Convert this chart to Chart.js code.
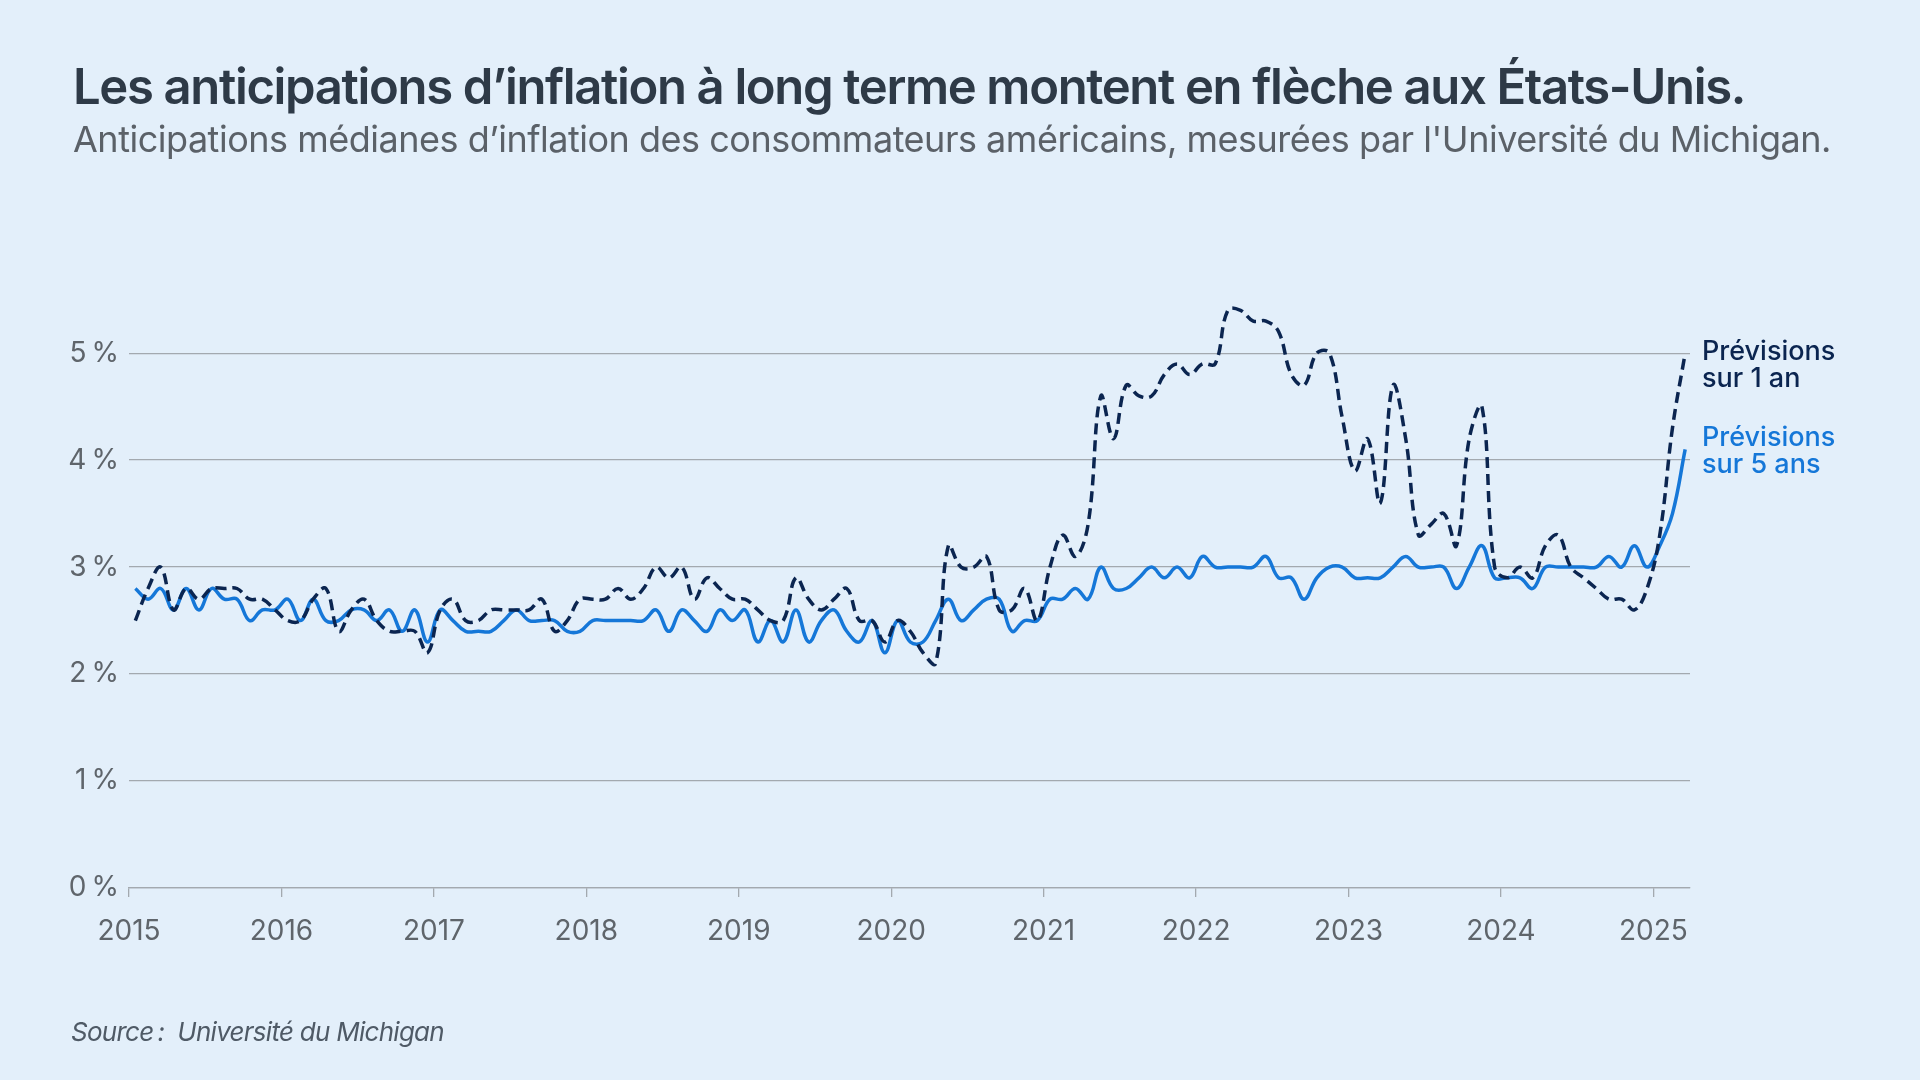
<!DOCTYPE html>
<html lang="fr">
<head>
<meta charset="utf-8">
<script src="https://cdn.jsdelivr.net/npm/chart.js@4"></script>
<style>
  html, body { margin: 0; padding: 0; background: #e3effa; }
  body { width: 1920px; height: 1080px; position: relative; overflow: hidden; font-family: Inter, "Noto Sans", sans-serif; }
  #c { position: absolute; left: 0; top: 0; }
  .t { position: absolute; white-space: nowrap; }
  #title { left: 73px; top: 62px; font-size: 49px; line-height: 49px; font-weight: 600; color: #2e3a47; }
  #subtitle { left: 73px; top: 121px; font-size: 36px; line-height: 36px; font-weight: 400; color: #5b6168; }
  #source { left: 71px; top: 1019px; font-size: 26px; line-height: 26px; font-style: italic; color: #4f5a66; }
  .lab { left: 1702px; font-size: 27px; line-height: 27px; font-weight: 500; }
  #lab1 { top: 337px; color: #0b2550; }
  #lab5 { top: 423px; color: #1577d8; }
</style>
</head>
<body>
<canvas id="c" width="1920" height="1080"></canvas>
<div class="t" id="title">Les anticipations d’inflation à long terme montent en flèche aux États-Unis.</div>
<div class="t" id="subtitle">Anticipations médianes d’inflation des consommateurs américains, mesurées par l'Université du Michigan.</div>
<div class="t" id="source">Source&#8239;:&nbsp; Université du Michigan</div>
<div class="t lab" id="lab1">Prévisions<br>sur 1 an</div>
<div class="t lab" id="lab5">Prévisions<br>sur 5 ans</div>
<script>
// Monthly series, January 2015 – March 2025
const startYear = 2015;
const yearTicks = [2015, 2016, 2017, 2018, 2019, 2020, 2021, 2022, 2023, 2024, 2025];
const percentTicks = [0, 1, 2, 3, 4, 5];
const seriesNames = ['Prévisions sur 1 an', 'Prévisions sur 5 ans'];

const oneYear = [
  2.5, 2.8, 3.0, 2.6, 2.8, 2.7, 2.8, 2.8, 2.8, 2.7, 2.7, 2.6, // 2015
  2.5, 2.5, 2.7, 2.8, 2.4, 2.6, 2.7, 2.5, 2.4, 2.4, 2.4, 2.2, // 2016
  2.6, 2.7, 2.5, 2.5, 2.6, 2.6, 2.6, 2.6, 2.7, 2.4, 2.5, 2.7, // 2017
  2.7, 2.7, 2.8, 2.7, 2.8, 3.0, 2.9, 3.0, 2.7, 2.9, 2.8, 2.7, // 2018
  2.7, 2.6, 2.5, 2.5, 2.9, 2.7, 2.6, 2.7, 2.8, 2.5, 2.5, 2.3, // 2019
  2.5, 2.4, 2.2, 2.1, 3.2, 3.0, 3.0, 3.1, 2.6, 2.6, 2.8, 2.5, // 2020
  3.0, 3.3, 3.1, 3.4, 4.6, 4.2, 4.7, 4.6, 4.6, 4.8, 4.9, 4.8, // 2021
  4.9, 4.9, 5.4, 5.4, 5.3, 5.3, 5.2, 4.8, 4.7, 5.0, 5.0, 4.4, // 2022
  3.9, 4.2, 3.6, 4.7, 4.2, 3.3, 3.4, 3.5, 3.2, 4.2, 4.5, 3.0, // 2023
  2.9, 3.0, 2.9, 3.2, 3.3, 3.0, 2.9, 2.8, 2.7, 2.7, 2.6, 2.8, // 2024
  3.3, 4.3, 5.0                                                // 2025
];

const fiveYear = [
  2.8, 2.7, 2.8, 2.6, 2.8, 2.6, 2.8, 2.7, 2.7, 2.5, 2.6, 2.6, // 2015
  2.7, 2.5, 2.7, 2.5, 2.5, 2.6, 2.6, 2.5, 2.6, 2.4, 2.6, 2.3, // 2016
  2.6, 2.5, 2.4, 2.4, 2.4, 2.5, 2.6, 2.5, 2.5, 2.5, 2.4, 2.4, // 2017
  2.5, 2.5, 2.5, 2.5, 2.5, 2.6, 2.4, 2.6, 2.5, 2.4, 2.6, 2.5, // 2018
  2.6, 2.3, 2.5, 2.3, 2.6, 2.3, 2.5, 2.6, 2.4, 2.3, 2.5, 2.2, // 2019
  2.5, 2.3, 2.3, 2.5, 2.7, 2.5, 2.6, 2.7, 2.7, 2.4, 2.5, 2.5, // 2020
  2.7, 2.7, 2.8, 2.7, 3.0, 2.8, 2.8, 2.9, 3.0, 2.9, 3.0, 2.9, // 2021
  3.1, 3.0, 3.0, 3.0, 3.0, 3.1, 2.9, 2.9, 2.7, 2.9, 3.0, 3.0, // 2022
  2.9, 2.9, 2.9, 3.0, 3.1, 3.0, 3.0, 3.0, 2.8, 3.0, 3.2, 2.9, // 2023
  2.9, 2.9, 2.8, 3.0, 3.0, 3.0, 3.0, 3.0, 3.1, 3.0, 3.2, 3.0, // 2024
  3.2, 3.5, 4.1                                                // 2025
];

// month position (mid-month) on a continuous year axis
const monthPos = i => startYear + (i + 0.5) / 12;
const toPoints = arr => arr.map((v, i) => ({ x: monthPos(i), y: v }));

const tickFont = { family: 'Inter', size: 28, weight: 400 };
const tickColor = '#5f656b';
const gridColor = '#a3a9af';

new Chart(document.getElementById('c'), {
  type: 'line',
  data: {
    datasets: [
      {
        label: seriesNames[0],
        data: toPoints(oneYear),
        borderColor: '#0b2550',
        borderWidth: 3.5,
        borderDash: [11, 6],
        tension: 0.4,
        pointRadius: 0,
        fill: false
      },
      {
        label: seriesNames[1],
        data: toPoints(fiveYear),
        borderColor: '#1577d8',
        borderWidth: 3.5,
        tension: 0.4,
        pointRadius: 0,
        fill: false
      }
    ]
  },
  options: {
    responsive: false,
    devicePixelRatio: 1,
    animation: false,
    layout: { padding: { left: 0, top: 289, right: 230, bottom: 132 } },
    plugins: { legend: { display: false }, tooltip: { enabled: false }, title: { display: false } },
    scales: {
      x: {
        type: 'linear',
        min: 2015,
        max: 2025.24,
        afterBuildTicks: axis => { axis.ticks = yearTicks.map(v => ({ value: v })); },
        afterFit: s => { s.height = 60; },
        ticks: {
          font: tickFont,
          color: tickColor,
          padding: 18,
          maxRotation: 0,
          autoSkip: false,
          callback: v => String(v)
        },
        grid: { drawOnChartArea: false, drawTicks: true, tickLength: 9, color: gridColor, lineWidth: 1.3 },
        border: { display: true, color: gridColor, width: 1.3 }
      },
      y: {
        min: 0,
        max: 5.6,
        afterBuildTicks: axis => { axis.ticks = percentTicks.map(v => ({ value: v })); },
        afterFit: s => { s.width = 129; },
        ticks: {
          font: tickFont,
          color: tickColor,
          padding: 10,
          callback: v => v + '\u202f%'
        },
        grid: { color: gridColor, lineWidth: 1.3, drawTicks: false },
        border: { display: false }
      }
    }
  }
});

// fit text widths to the reference layout
function fit(id, target) {
  const el = document.getElementById(id);
  const w = el.getBoundingClientRect().width;
  const n = el.textContent.length;
  el.style.letterSpacing = ((target - w) / n) + 'px';
}
document.fonts.ready.then(() => {
  fit('title', 1672);
  fit('subtitle', 1758);
  fit('source', 373);
});
</script>
</body>
</html>
